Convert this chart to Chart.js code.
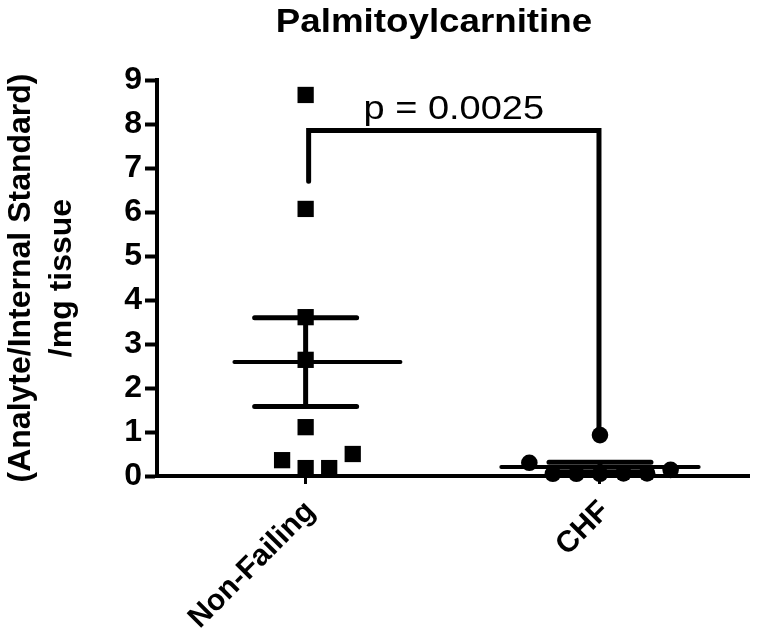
<!DOCTYPE html>
<html>
<head>
<meta charset="utf-8">
<script src="https://cdn.jsdelivr.net/npm/chart.js@4.4.0/dist/chart.umd.min.js"></script>
<style>
  html, body { margin: 0; padding: 0; background: #fff; }
</style>
</head>
<body>
<canvas id="chart" width="761" height="640"></canvas>
<script>
// values
const groups = ['Non-Failing', 'CHF'];
const nonFailing = [8.66, 6.07, 3.61, 2.64, 1.11, 0.18, 0.18, 0.36, 0.5];
const chf = [0.93, 0.05, 0.06, 0.05, 0.06, 0.05, 0.14, 0.3];
const yTicks = [0, 1, 2, 3, 4, 5, 6, 7, 8, 9];
const chartTitle = 'Palmitoylcarnitine';
const yTitle = ['(Analyte/Internal Standard)', '/mg tissue'];
const pLabel = 'p = 0.0025';
const bracketTop = 7.85;
const bracketLegEnds = [6.7, 1.05];

const FONT = '"Liberation Sans", Arial, sans-serif';
const SLOT = 0.08; // horizontal spacing of points sharing a row (x units)

// spread points that sit at nearly the same height: 0, +1, -1, +2, -2 ...
function slotsFor(vals) {
  const order = vals.map((v, i) => i).sort((a, b) => vals[a] - vals[b]);
  const rowOf = [];
  let row = 0;
  order.forEach((idx, k) => {
    if (k > 0 && vals[idx] - vals[order[k - 1]] >= 0.35) row++;
    rowOf[idx] = row;
  });
  const count = {};
  return vals.map((v, i) => {
    const n = count[rowOf[i]] || 0;
    count[rowOf[i]] = n + 1;
    return n === 0 ? 0 : (n % 2 ? (n + 1) / 2 : -n / 2);
  });
}

function mean(a) { return a.reduce((s, v) => s + v, 0) / a.length; }
function sem(a) {
  const m = mean(a);
  const sd = Math.sqrt(a.reduce((s, v) => s + (v - m) * (v - m), 0) / (a.length - 1));
  return sd / Math.sqrt(a.length);
}

const series = [nonFailing, chf];
const slots = series.map(slotsFor);

// text in the original export is a bit wider than it is tall
function stretchedText(ctx, text, cx, baseline, font, sx) {
  ctx.save();
  ctx.font = font;
  ctx.fillStyle = '#000';
  ctx.textAlign = 'center';
  ctx.textBaseline = 'alphabetic';
  ctx.translate(cx, baseline);
  ctx.scale(sx, 1);
  ctx.fillText(text, 0, 0);
  ctx.restore();
}

const statsPlugin = {
  id: 'stats',
  afterDatasetsDraw(chart) {
    const { ctx } = chart;
    const x = chart.scales.x, y = chart.scales.y;
    const slotPx = x.getPixelForValue(SLOT) - x.getPixelForValue(0);
    ctx.save();
    ctx.strokeStyle = '#000';
    ctx.lineCap = 'round';
    series.forEach((vals, i) => {
      const m = mean(vals), e = sem(vals);
      const cx = x.getPixelForValue(i);
      const lo = Math.min(...slots[i]), hi = Math.max(...slots[i]);
      const mid = cx + (lo + hi) / 2 * slotPx;
      const half = Math.max(83, Math.max(-lo, hi) * slotPx + 28);
      ctx.lineWidth = 4;
      ctx.beginPath();
      ctx.moveTo(mid - half, y.getPixelForValue(m));
      ctx.lineTo(mid + half, y.getPixelForValue(m));
      ctx.stroke();
      ctx.lineWidth = 5;
      ctx.beginPath();
      ctx.moveTo(cx, y.getPixelForValue(m - e));
      ctx.lineTo(cx, y.getPixelForValue(m + e));
      ctx.moveTo(cx - 51, y.getPixelForValue(m + e));
      ctx.lineTo(cx + 51, y.getPixelForValue(m + e));
      ctx.moveTo(cx - 51, y.getPixelForValue(m - e));
      ctx.lineTo(cx + 51, y.getPixelForValue(m - e));
      ctx.stroke();
    });

    // significance bracket
    const x0 = x.getPixelForValue(0) + 3, x1 = x.getPixelForValue(1) - 1;
    const yt = y.getPixelForValue(bracketTop);
    ctx.lineWidth = 5;
    ctx.lineJoin = 'miter';
    ctx.beginPath();
    ctx.moveTo(x0, y.getPixelForValue(bracketLegEnds[0]));
    ctx.lineTo(x0, yt);
    ctx.lineTo(x1, yt);
    ctx.lineTo(x1, y.getPixelForValue(bracketLegEnds[1]));
    ctx.stroke();
    ctx.restore();

    stretchedText(ctx, pLabel, (x0 + x1) / 2, yt - 12, '33px ' + FONT, 1.15);
    stretchedText(ctx, chartTitle, 434, 32, 'bold 34px ' + FONT, 1.08);
  }
};

new Chart(document.getElementById('chart').getContext('2d'), {
  type: 'scatter',
  data: {
    datasets: [
      {
        data: nonFailing.map((v, k) => ({ x: 0 + SLOT * slots[0][k], y: v })),
        pointStyle: 'rect',
        pointRadius: 11.5,
        borderWidth: 0,
        backgroundColor: '#000',
        clip: false
      },
      {
        data: chf.map((v, k) => ({ x: 1 + SLOT * slots[1][k], y: v })),
        pointStyle: 'circle',
        pointRadius: 8.3,
        borderWidth: 0,
        backgroundColor: '#000',
        clip: false
      }
    ]
  },
  options: {
    responsive: false,
    animation: false,
    devicePixelRatio: 1,
    layout: { padding: { top: 80, right: 10, left: 0, bottom: 0 } },
    plugins: {
      legend: { display: false },
      tooltip: { enabled: false },
      title: { display: false }
    },
    events: [],
    scales: {
      x: {
        type: 'linear',
        min: -0.505,
        max: 1.508,
        afterBuildTicks: s => { s.ticks = groups.map((g, i) => ({ value: i })); },
        afterFit: s => { s.height = 164; },
        ticks: {
          callback: (v, i) => groups[i],
          minRotation: 45,
          maxRotation: 45,
          color: '#000',
          padding: 10,
          labelOffset: 5,
          font: { family: FONT, size: 30, weight: 'bold' }
        },
        grid: { drawOnChartArea: false, tickLength: 8, tickWidth: 3, tickColor: '#000' },
        border: { color: '#000', width: 4 }
      },
      y: {
        min: 0,
        max: 9,
        afterBuildTicks: s => { s.ticks = yTicks.map(v => ({ value: v })); },
        afterFit: s => { s.width = 157; },
        ticks: {
          color: '#000',
          padding: 3,
          font: { family: FONT, size: 32, weight: 'bold' }
        },
        grid: { drawOnChartArea: false, tickLength: 12, tickWidth: 4, tickColor: '#000' },
        border: { color: '#000', width: 4 },
        title: {
          display: true,
          text: yTitle,
          color: '#000',
          padding: 0,
          font: { family: FONT, size: 32, weight: 'bold', lineHeight: 1.3 }
        }
      }
    }
  },
  plugins: [statsPlugin]
});
</script>
</body>
</html>
